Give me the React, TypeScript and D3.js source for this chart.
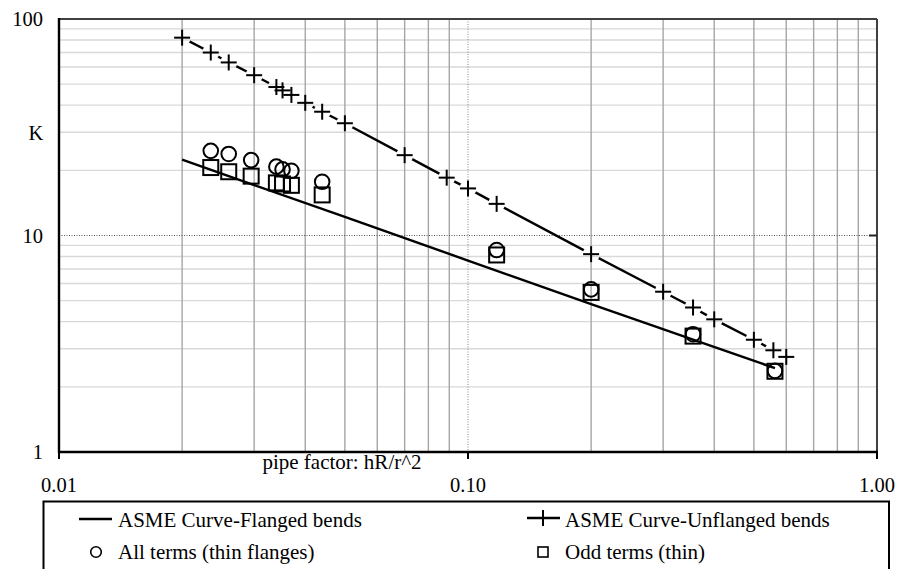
import React from "react";
import * as d3 from "d3";

// ---- data ----
const unflangedX = [0.02, 0.0235, 0.026, 0.03, 0.034, 0.0352, 0.037, 0.04, 0.044, 0.05, 0.07, 0.0887, 0.1, 0.1175, 0.2, 0.3, 0.355, 0.4, 0.5, 0.558, 0.6];
const unflangedK = [82, 70, 63, 55, 48.5, 46.8, 44.6, 41, 37.3, 33, 23.5, 18.5, 16.5, 14, 8.2, 5.5, 4.65, 4.1, 3.3, 2.95, 2.75];

const flangedX = [0.02, 0.03, 0.05, 0.1, 0.2, 0.355, 0.563];
const flangedK = [22.4, 17.1, 12.2, 7.66, 4.82, 3.3, 2.44];

const termsX = [0.0235, 0.026, 0.0295, 0.034, 0.0352, 0.037, 0.044, 0.1175, 0.2, 0.355, 0.563];
const allTermsK = [24.6, 23.8, 22.3, 20.8, 20.2, 19.9, 17.7, 8.57, 5.64, 3.5, 2.37];
const oddTermsK = [20.6, 19.7, 18.8, 17.5, 17.3, 17.05, 15.4, 8.13, 5.46, 3.43, 2.36];

const xTicks = [0.01, 0.1, 1];
const xTickLabels = ["0.01", "0.10", "1.00"];
const yTicks = [1, 10, 100];
const yTickLabels = ["1", "10", "100"];

const xTitle = "pipe factor: hR/r^2";
const yTitle = "K";
const legendLabels = [
  "ASME Curve-Flanged bends",
  "ASME Curve-Unflanged bends",
  "All terms (thin flanges)",
  "Odd terms (thin)",
];

const W = 899;
const H = 569;
const FONT = "Liberation Serif";

export default function App() {
  const left = 59, right = 877, top = 19, bottom = 452;
  const x = d3.scaleLog().domain([0.01, 1]).range([left, right]);
  const y = d3.scaleLog().domain([1, 100]).range([bottom, top]);

  const xMinor: number[] = [];
  [0.01, 0.1].forEach((d) => {
    for (let k = 2; k <= 9; k++) xMinor.push(d * k);
  });
  const yMinor: number[] = [];
  [1, 10].forEach((d) => {
    for (let k = 2; k <= 9; k++) yMinor.push(d * k);
  });

  const line = d3
    .line<[number, number]>()
    .x((d) => x(d[0]))
    .y((d) => y(d[1]));

  const unflPts: [number, number][] = unflangedX.map((v, i) => [v, unflangedK[i]]);
  const flPts: [number, number][] = flangedX.map((v, i) => [v, flangedK[i]]);

  const plus = (cx: number, cy: number, s: number, key: string | number, sw = 2) => (
    <g key={key} stroke="#000" strokeWidth={sw}>
      <line x1={cx - s} x2={cx + s} y1={cy} y2={cy} />
      <line x1={cx} x2={cx} y1={cy - s} y2={cy + s} />
    </g>
  );

  const ts = (size: number): React.CSSProperties => ({ fontFamily: FONT, fontSize: size + "px" });

  const row1 = 527, row2 = 559;
  const lx1 = 96, lx2 = 543;
  const tx1 = 118, tx2 = 565;

  return (
    <svg
      width={W}
      height={H}
      style={{ position: "absolute", left: 0, top: 0, background: "#fff", fontFamily: FONT }}
    >
      <rect x={0} y={0} width={W} height={H} fill="#fff" />
      <defs>
        <mask id="plusGap" maskUnits="userSpaceOnUse" x={0} y={0} width={W} height={H}>
          <rect x={0} y={0} width={W} height={H} fill="#fff" />
          {unflPts.map((d, i) => (
            <circle key={i} cx={x(d[0])} cy={y(d[1])} r={8.5} fill="#000" />
          ))}
        </mask>
      </defs>

      {/* horizontal minor grid */}
      {yMinor.map((v, i) => (
        <line key={"hy" + i} x1={left} x2={right} y1={y(v)} y2={y(v)} stroke="#d9d9d9" strokeWidth={1.4} />
      ))}
      {/* vertical minor grid */}
      {xMinor.map((v, i) => (
        <line key={"vx" + i} x1={x(v)} x2={x(v)} y1={top} y2={bottom} stroke="#a6a6a6" strokeWidth={1.4} />
      ))}
      {/* major dotted grid */}
      <line x1={left} x2={right} y1={y(10)} y2={y(10)} stroke="#555" strokeWidth={1} strokeDasharray="1,1.5" />
      <line x1={x(0.1)} x2={x(0.1)} y1={top} y2={bottom} stroke="#888" strokeWidth={1} strokeDasharray="1,1.5" />

      {/* frame */}
      <line x1={left} x2={right} y1={top} y2={top} stroke="#404040" strokeWidth={2} />
      <line x1={right} x2={right} y1={top} y2={bottom} stroke="#404040" strokeWidth={2} />
      <line x1={left} x2={left} y1={top - 1} y2={bottom + 1} stroke="#000" strokeWidth={2.4} />
      <line x1={left - 1} x2={right + 1} y1={bottom} y2={bottom} stroke="#000" strokeWidth={2.4} />

      {/* ticks */}
      {xTicks.map((v, i) => (
        <line key={"xt" + i} x1={x(v)} x2={x(v)} y1={bottom} y2={bottom + 7} stroke="#000" strokeWidth={2} />
      ))}
      <line x1={right - 8} x2={right} y1={y(10)} y2={y(10)} stroke="#222" strokeWidth={2} />

      {/* tick labels */}
      {xTicks.map((v, i) => (
        <text key={"xl" + i} x={x(v)} y={492} textAnchor="middle" style={ts(20.5)} fill="#000">
          {xTickLabels[i]}
        </text>
      ))}
      {yTicks.map((v, i) => (
        <text key={"yl" + i} x={43} y={y(v) + 7} textAnchor="end" style={ts(20.5)} fill="#000">
          {yTickLabels[i]}
        </text>
      ))}
      <text x={36} y={140} textAnchor="middle" style={ts(20.5)} fill="#000">
        {yTitle}
      </text>
      <text x={342} y={469} textAnchor="middle" style={ts(21)} fill="#000">
        {xTitle}
      </text>

      {/* series */}
      <path d={line(flPts) || ""} fill="none" stroke="#000" strokeWidth={2.4} />
      <path d={line(unflPts) || ""} fill="none" stroke="#000" strokeWidth={2.4} mask="url(#plusGap)" />
      {unflPts.map((d, i) => plus(x(d[0]), y(d[1]), 8, "p" + i))}
      {termsX.map((v, i) => (
        <rect
          key={"sq" + i}
          x={x(v) - 7.5}
          y={y(oddTermsK[i]) - 7.5}
          width={15}
          height={15}
          fill="none"
          stroke="#000"
          strokeWidth={2}
        />
      ))}
      {termsX.map((v, i) => (
        <circle key={"c" + i} cx={x(v)} cy={y(allTermsK[i])} r={7.3} fill="none" stroke="#000" strokeWidth={2} />
      ))}

      {/* legend */}
      <rect x={43.5} y={501.5} width={845.5} height={120} fill="#fff" stroke="#000" strokeWidth={2} />
      <line x1={79} x2={112} y1={row1 - 8} y2={row1 - 8} stroke="#000" strokeWidth={2.4} />
      <text x={tx1} y={row1} style={ts(21)} fill="#000">{legendLabels[0]}</text>
      <line x1={527} x2={560} y1={row1 - 9} y2={row1 - 9} stroke="#000" strokeWidth={2.4} />
      {plus(lx2, row1 - 9, 8, "lp")}
      <text x={tx2} y={row1} style={ts(21)} fill="#000">{legendLabels[1]}</text>
      <circle cx={lx1} cy={row2 - 7} r={5.3} fill="none" stroke="#000" strokeWidth={1.6} />
      <text x={tx1} y={row2} style={ts(21)} fill="#000">{legendLabels[2]}</text>
      <rect x={lx2 - 5} y={row2 - 12} width={10} height={10} fill="none" stroke="#000" strokeWidth={1.6} />
      <text x={tx2} y={row2} style={ts(21)} fill="#000">{legendLabels[3]}</text>
    </svg>
  );
}
